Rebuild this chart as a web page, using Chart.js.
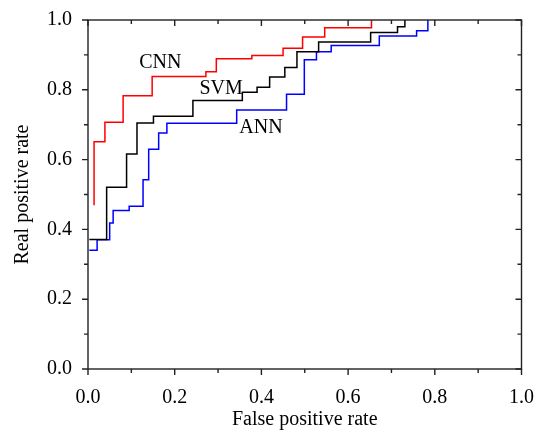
<!DOCTYPE html>
<html>
<head>
<meta charset="utf-8">
<title>ROC curves</title>
<script src="https://cdn.jsdelivr.net/npm/chart.js@4/dist/chart.umd.min.js"></script>
<style>
	body{ margin:0; background:#fff; }
</style>
</head>
<body>
<canvas id="myChart" width="543" height="432"></canvas>
<script>
// step points: each point is the left end of a horizontal run
var cnnFpr = [0.014, 0.014, 0.039, 0.081, 0.148, 0.272, 0.296, 0.378, 0.450, 0.495, 0.546, 0.654];
var cnnTpr = [0.469, 0.651, 0.707, 0.783, 0.838, 0.852, 0.889, 0.898, 0.919, 0.951, 0.978, 1.000];

var svmFpr = [0.003, 0.043, 0.089, 0.113, 0.151, 0.242, 0.356, 0.390, 0.419, 0.454, 0.482, 0.532, 0.652, 0.714, 0.731];
var svmTpr = [0.371, 0.521, 0.616, 0.705, 0.724, 0.769, 0.793, 0.807, 0.837, 0.864, 0.909, 0.937, 0.964, 0.981, 1.000];

var annFpr = [0.003, 0.021, 0.050, 0.058, 0.095, 0.127, 0.140, 0.163, 0.182, 0.343, 0.458, 0.499, 0.527, 0.561, 0.672, 0.758, 0.784];
var annTpr = [0.340, 0.370, 0.418, 0.454, 0.466, 0.542, 0.630, 0.676, 0.704, 0.742, 0.787, 0.886, 0.909, 0.927, 0.954, 0.969, 1.000];

var tickValues = [0, 0.1, 0.2, 0.3, 0.4, 0.5, 0.6, 0.7, 0.8, 0.9, 1.0];

// curve names and where they sit (data units)
var curveNames = ["CNN", "SVM", "ANN"];
var nameX = [0.167, 0.307, 0.399];
var nameY = [0.877, 0.803, 0.691];

var serif = "'Liberation Serif', 'DejaVu Serif', serif";

function pts(xs, ys){
	return xs.map(function(x, i){ return {x: x, y: ys[i]}; });
}

// box around the plot, ticks on all four sides, and the curve names
var framePlugin = {
	id: 'frame',
	afterDraw: function(chart){
		var ctx = chart.ctx, a = chart.chartArea;
		var xs = chart.scales.x, ys = chart.scales.y;
		ctx.save();
		ctx.strokeStyle = '#222';
		ctx.lineWidth = 1.4;
		ctx.strokeRect(a.left, a.top, a.right - a.left, a.bottom - a.top);
		ctx.beginPath();
		tickValues.forEach(function(v, i){
			var len = (i % 2 == 0) ? 6 : 4;
			var px = xs.getPixelForValue(v);
			var py = ys.getPixelForValue(v);
			ctx.moveTo(px, a.bottom); ctx.lineTo(px, a.bottom + len);
			ctx.moveTo(px, a.top); ctx.lineTo(px, a.top + len);
			ctx.moveTo(a.left - len, py); ctx.lineTo(a.left, py);
			ctx.moveTo(a.right, py); ctx.lineTo(a.right - len, py);
		});
		ctx.stroke();

		ctx.fillStyle = '#000';
		ctx.font = '20px ' + serif;
		ctx.textAlign = 'center';
		ctx.textBaseline = 'middle';
		curveNames.forEach(function(n, i){
			ctx.fillText(n, xs.getPixelForValue(nameX[i]), ys.getPixelForValue(nameY[i]));
		});
		ctx.restore();
	}
};

var ctx = document.getElementById('myChart').getContext('2d');
var chart = new Chart(ctx, {
	type: 'line',
	data: {
		datasets: [
			{ label: "CNN", data: pts(cnnFpr, cnnTpr), borderColor: "#ff0000", borderWidth: 1.5, stepped: 'before', pointRadius: 0, fill: false },
			{ label: "SVM", data: pts(svmFpr, svmTpr), borderColor: "#000000", borderWidth: 1.5, stepped: 'before', pointRadius: 0, fill: false },
			{ label: "ANN", data: pts(annFpr, annTpr), borderColor: "#0000ff", borderWidth: 1.5, stepped: 'before', pointRadius: 0, fill: false }
		]
	},
	options: {
		responsive: false,
		animation: false,
		clip: false,
		layout: { padding: { top: 19, right: 19, left: 0, bottom: 0 } },
		plugins: { legend: { display: false }, tooltip: { enabled: false } },
		scales: {
			x: {
				type: 'linear', min: 0, max: 1,
				border: { display: false },
				grid: { display: false },
				ticks: {
					stepSize: 0.2, padding: 9, color: '#000',
					font: { family: serif, size: 20 },
					callback: function(v){ return v.toFixed(1); }
				},
				title: { display: true, text: 'False positive rate', color: '#000', font: { family: serif, size: 20 }, padding: { top: 0, bottom: 0 } },
				afterFit: function(s){ s.height = 63; }
			},
			y: {
				type: 'linear', min: 0, max: 1,
				border: { display: false },
				grid: { display: false },
				ticks: {
					stepSize: 0.2, padding: 8, color: '#000',
					font: { family: serif, size: 20 },
					callback: function(v){ return v.toFixed(1); }
				},
				title: { display: true, text: 'Real positive rate', color: '#000', font: { family: serif, size: 20 }, padding: { top: 11, bottom: 0 } },
				afterFit: function(s){ s.width = 88; }
			}
		}
	},
	plugins: [framePlugin]
});
</script>
</body>
</html>
